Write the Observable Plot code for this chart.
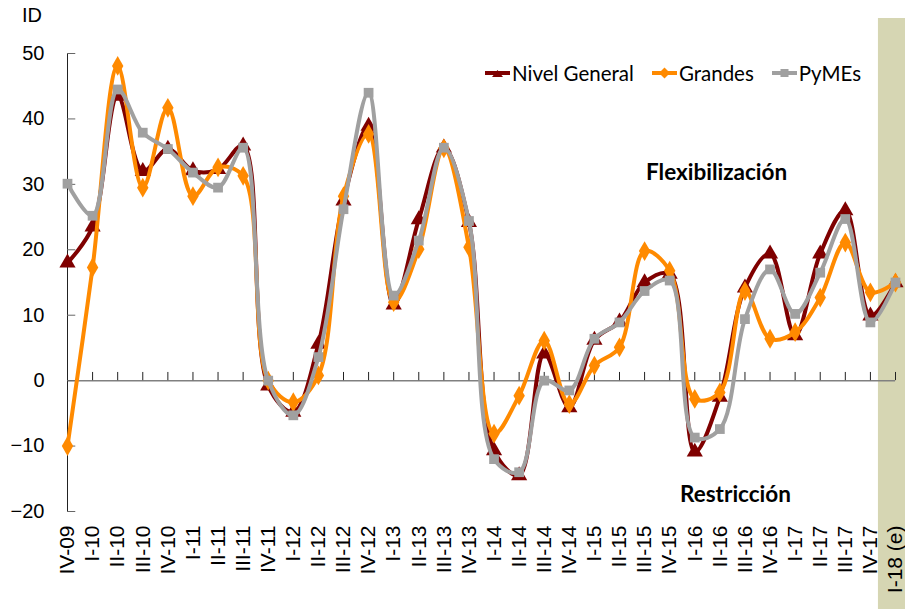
<!DOCTYPE html>
<html>
<head>
<meta charset="utf-8">
<script src="https://cdn.jsdelivr.net/npm/d3@7"></script>
<script src="https://cdn.jsdelivr.net/npm/@observablehq/plot@0.6"></script>
<style>
  html, body { margin: 0; padding: 0; background: #fff; }
  #wrap { position: relative; width: 905px; height: 609px; overflow: hidden; }
  .ann { position: absolute; font-family: Lato, "Open Sans", sans-serif; color: #000; white-space: nowrap; }
  .legend { position: absolute; left: 485px; top: 61px; display: flex; align-items: center; font-family: Lato, "Open Sans", sans-serif; font-size: 20.5px; }
  .legend .item { display: flex; align-items: center; margin-right: 18px; }
  .legend svg { display: block; margin-right: 2px; }
</style>
</head>
<body>
<div id="wrap">
  <div id="chart"></div>
</div>
<script>
// ---- data ----
const quarters = ["IV-09","I-10","II-10","III-10","IV-10","I-11","II-11","III-11","IV-11","I-12","II-12","III-12","IV-12","I-13","II-13","III-13","IV-13","I-14","II-14","III-14","IV-14","I-15","II-15","III-15","IV-15","I-16","II-16","III-16","IV-16","I-17","II-17","III-17","IV-17","I-18 (e)"];
const nivelGeneral = [18, 23.5, 43.5, 32, 35.4, 32.1, 32.3, 35.9, -0.8, -4.8, 5.6, 27.5, 38.9, 11.6, 24.6, 35.6, 24.2, -10.7, -14.5, 4.1, -4.1, 6.2, 9.0, 15.0, 16.3, -10.9, -2.5, 14.2, 19.4, 6.9, 19.4, 26.0, 9.9, 15.0];
const grandes = [-10, 17.3, 48.1, 29.5, 41.7, 28.2, 32.6, 31.3, 0, -3.3, 0.8, 28.2, 37.7, 12, 20.1, 35.5, 20.4, -8.1, -2.3, 6.1, -3.6, 2.3, 5.1, 19.8, 16.8, -2.8, -1.8, 13.7, 6.4, 7.4, 12.7, 21.1, 13.5, 15.0];
const pymes = [30.1, 25.2, 44.5, 37.9, 35.4, 31.8, 29.5, 35.6, 0, -5.3, 3.6, 26.2, 44.0, 13.0, 21.4, 35.6, 24.4, -12.0, -14.0, 0, -1.5, 6.4, 8.9, 13.7, 15.3, -8.7, -7.4, 9.4, 17.0, 10.2, 16.5, 24.7, 8.9, 15.0];
const seriesNames = ["Nivel General", "Grandes", "PyMEs"];
const yTicks = [-20, -10, 0, 10, 20, 30, 40, 50];
const estimatedLabel = "I-18 (e)";

// ---- styles ----
const colors = {"Nivel General": "#7F0000", "Grandes": "#FF8A00", "PyMEs": "#A0A0A0"};
const symbols = {"Nivel General": "triangle", "Grandes": "diamond", "PyMEs": "square"};
const radii = {"Nivel General": 6, "Grandes": 6, "PyMEs": 5.5};

const idx = quarters.map((_, i) => i);
const seriesValues = [nivelGeneral, grandes, pymes];
const rows = seriesNames.map((name, s) => quarters.map((q, i) => ({name, q, i, v: seriesValues[s][i]})));
const estIndex = quarters.indexOf(estimatedLabel);

const marks = [
  // shaded estimate band
  Plot.rect([estIndex], {x1: d => d - 0.68, x2: d => d + 0.45, fill: "#D6D6B3", insetTop: -35, insetBottom: -110}),
  // zero line (category axis)
  Plot.ruleY([0], {stroke: "#808080", strokeWidth: 1.5}),
  Plot.ruleX(idx.slice(1), {x: d => d, y1: 0, y2: 1.25, stroke: "#222", strokeWidth: 1}),
  // value axis line + inward ticks
  Plot.ruleX([0], {y1: -20, y2: 50, stroke: "#222", strokeWidth: 1}),
  Plot.ruleY(yTicks, {x1: 0, x2: 0.33, stroke: "#666", strokeWidth: 1}),
  Plot.axisY({ticks: yTicks, tickSize: 0, tickPadding: 23, fontSize: 20, label: null}),
  Plot.axisX({ticks: idx, tickFormat: i => quarters[i], tickSize: 0, tickRotate: -90, tickPadding: 14, fontSize: 21, label: null})
];
rows.forEach(data => {
  const name = data[0].name;
  marks.push(Plot.line(data, {x: "i", y: "v", stroke: colors[name], strokeWidth: 4, curve: "catmull-rom"}));
  marks.push(Plot.dot(data, {x: "i", y: "v", fill: colors[name], stroke: "none", symbol: () => symbols[name], r: radii[name]}));
});

const chart = Plot.plot({
  width: 905,
  height: 609,
  marginLeft: 67,
  marginRight: 10,
  marginTop: 53,
  marginBottom: 98,
  x: {domain: [0, quarters.length - 1], axis: null},
  y: {domain: [-20, 50], axis: null},
  style: {fontFamily: "'Liberation Sans', Arial, sans-serif", background: "transparent", color: "#000"},
  marks
});
const wrap = document.getElementById("wrap");
document.getElementById("chart").appendChild(chart);

// ---- annotations ----
function addText(txt, left, top, size, weight) {
  const d = document.createElement("div");
  d.className = "ann";
  d.textContent = txt;
  d.style.left = left + "px";
  d.style.top = top + "px";
  d.style.fontSize = size + "px";
  d.style.fontWeight = weight;
  if (txt === "ID") d.style.fontFamily = "'Liberation Sans', Arial, sans-serif";
  wrap.appendChild(d);
}
addText("ID", 22, 4, 20, 400);
addText("Flexibilización", 646, 158, 22.5, 700);
addText("Restricción", 680, 480, 22.5, 700);

// ---- legend ----
const legend = document.createElement("div");
legend.className = "legend";
seriesNames.forEach(name => {
  const item = document.createElement("div");
  item.className = "item";
  const c = colors[name];
  let marker;
  if (symbols[name] === "triangle") marker = `<polygon points="12.5,5 18,12 7,12" fill="${c}"/>`;
  else if (symbols[name] === "diamond") marker = `<polygon points="12.5,2.5 18,8 12.5,13.5 7,8" fill="${c}"/>`;
  else marker = `<rect x="8.5" y="4" width="8" height="8" fill="${c}"/>`;
  item.innerHTML = `<svg width="25" height="16"><line x1="0" y1="8" x2="25" y2="8" stroke="${c}" stroke-width="4"/>${marker}</svg><span>${name}</span>`;
  legend.appendChild(item);
});
wrap.appendChild(legend);
</script>
</body>
</html>
